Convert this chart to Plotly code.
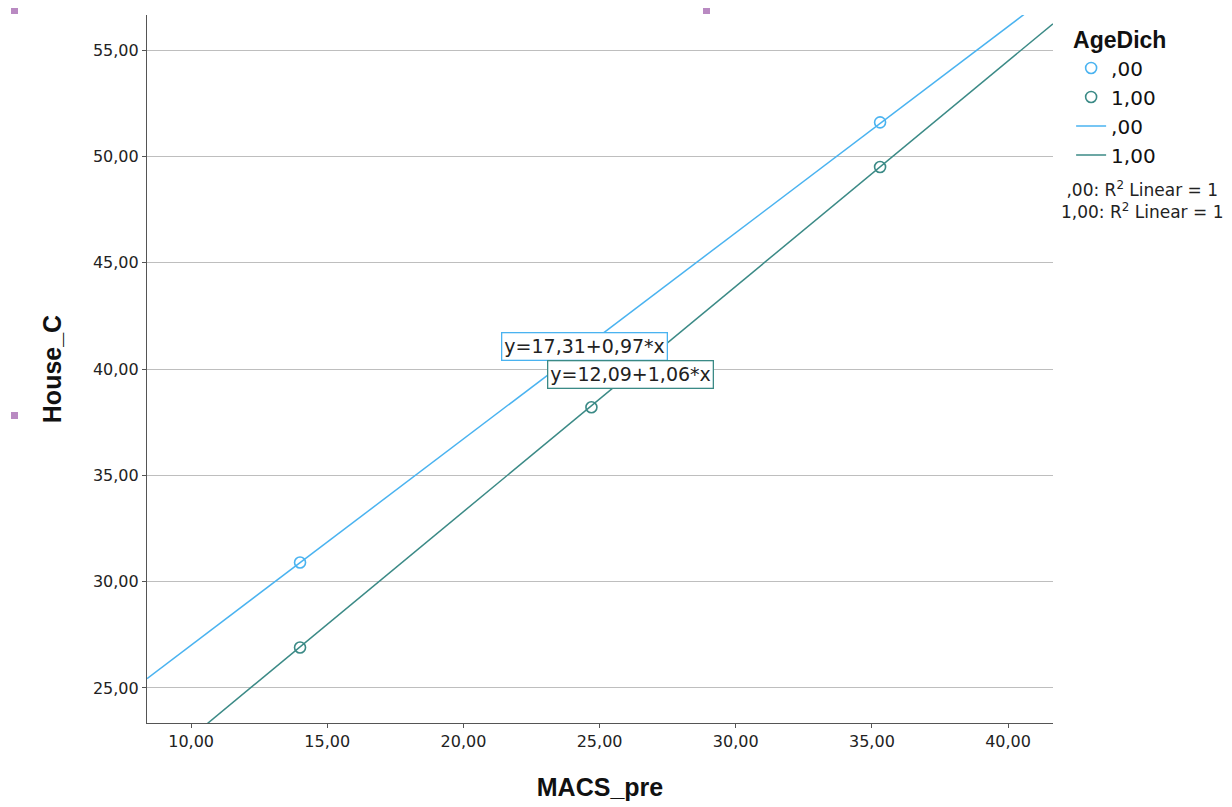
import plotly.graph_objects as go

# ---- data ----
groups = [",00", "1,00"]
x_g0 = [14.0, 35.3]
y_g0 = [30.9, 51.6]
x_g1 = [14.0, 24.7, 35.3]
y_g1 = [26.9, 38.2, 49.5]
intercepts = [17.31, 12.09]
slopes = [0.97, 1.06]
eq_labels = ["y=17,31+0,97*x", "y=12,09+1,06*x"]
eq_pos_x = [24.43, 26.12]
eq_pos_y = [41.08, 39.72]
x_ticks = [10, 15, 20, 25, 30, 35, 40]
y_ticks = [25, 30, 35, 40, 45, 50, 55]
x_range = [8.38, 41.65]
y_range = [23.35, 56.65]

colors = ["#4AB3F0", "#3B8A86"]
tick_fmt = lambda v: f"{v:.2f}".replace(".", ",")

# plot area in figure pixels (page has an 8px body margin)
PL, PT, PW, PH = 139, 7, 906, 708
W, H = 1232, 807

fig = go.Figure()
for i in range(2):
    lx = [x_range[0], x_range[1]]
    ly = [intercepts[i] + slopes[i] * v for v in lx]
    fig.add_trace(go.Scatter(
        x=lx, y=ly, mode="lines", name=groups[i],
        line=dict(color=colors[i], width=1.5), legendrank=3 + i))
pts = [(x_g0, y_g0), (x_g1, y_g1)]
for i, (xs, ys) in enumerate(pts):
    fig.add_trace(go.Scatter(
        x=xs, y=ys, mode="markers", name=groups[i],
        marker=dict(symbol="circle-open", size=11, color=colors[i],
                    line=dict(width=1.6, color=colors[i])),
        legendrank=1 + i))

for i in range(2):
    fig.add_annotation(
        x=eq_pos_x[i], y=eq_pos_y[i], xref="x", yref="y",
        text=eq_labels[i], showarrow=False,
        font=dict(family="DejaVu Sans", size=19, color="#222"),
        bgcolor="white", bordercolor=colors[i], borderwidth=1.3, borderpad=2)

fig.add_annotation(
    x=(1142 - 8 - PL) / PW, y=(PT + PH - (176 - 8)) / PH,
    xref="paper", yref="paper", xanchor="center", yanchor="top",
    text=",00: R<sup>2</sup> Linear = 1<br>1,00: R<sup>2</sup> Linear = 1",
    showarrow=False, align="center",
    font=dict(family="DejaVu Sans", size=17, color="#222"))

# decorative selection handles from the source editor
for (px, py) in [(14, 10), (706, 10), (14, 415)]:
    fx, fy = px - 8, py - 8
    fig.add_shape(type="rect", xref="paper", yref="paper",
                  x0=(fx - 3 - PL) / PW, x1=(fx + 4 - PL) / PW,
                  y0=(PT + PH - (fy + 4)) / PH, y1=(PT + PH - (fy - 3)) / PH,
                  fillcolor="#B98AC2", line=dict(width=0), layer="above")

axis_common = dict(showline=True, linecolor="#555555", linewidth=1.2,
                   ticks="outside", ticklen=4, tickcolor="#555555",
                   zeroline=False,
                   tickfont=dict(family="DejaVu Sans", size=16, color="#222"))
fig.update_xaxes(range=x_range, tickvals=x_ticks,
                 ticktext=[tick_fmt(v) for v in x_ticks], showgrid=False,
                 title=dict(text="<b>MACS_pre</b>", standoff=28,
                            font=dict(family="Liberation Sans", size=25, color="#111")),
                 **axis_common)
fig.update_yaxes(range=y_range, tickvals=y_ticks,
                 ticktext=[tick_fmt(v) for v in y_ticks], showgrid=True,
                 gridcolor="#BEBEBE", gridwidth=1.3,
                 title=dict(text="<b>House_C</b>", standoff=24,
                            font=dict(family="Liberation Sans", size=25, color="#111")),
                 **axis_common)

fig.update_layout(
    width=W, height=H,
    margin=dict(l=PL, r=W - PL - PW, t=PT, b=H - PT - PH),
    plot_bgcolor="white", paper_bgcolor="white",
    legend=dict(x=1.02, y=0.995, xanchor="left", yanchor="top",
                title=dict(text="<b>AgeDich</b>",
                           font=dict(family="Liberation Sans", size=23, color="#111")),
                font=dict(family="DejaVu Sans", size=20, color="#111"),
                tracegroupgap=0, itemwidth=30, bgcolor="rgba(0,0,0,0)"),
)

fig.write_html("out.html")
